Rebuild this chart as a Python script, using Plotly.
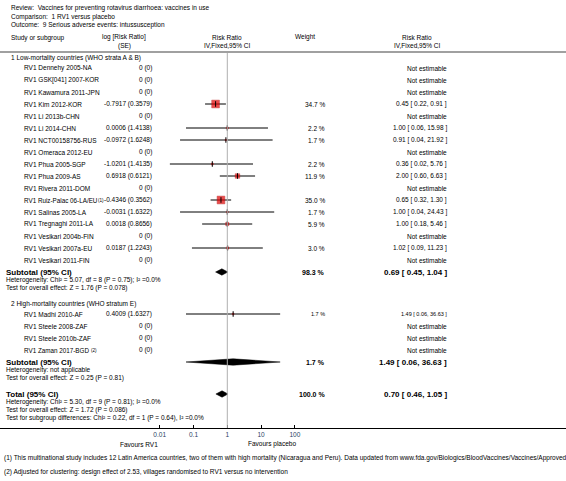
import plotly.graph_objects as go
import math

# ---------------- data ----------------
review = "Review:  Vaccines for preventing rotavirus diarrhoea: vaccines in use"
comparison = "Comparison:  1 RV1 versus placebo"
outcome = "Outcome:  9 Serious adverse events: intussusception"

group1_label = "1 Low-mortality countries (WHO strata A & B)"
names1 = ["RV1 Dennehy 2005-NA", "RV1 GSK[041] 2007-KOR", "RV1 Kawamura 2011-JPN", "RV1 Kim 2012-KOR",
          "RV1 Li 2013b-CHN", "RV1 Li 2014-CHN", "RV1 NCT00158756-RUS", "RV1 Omeraca 2012-EU",
          "RV1 Phua 2005-SGP", "RV1 Phua 2009-AS", "RV1 Rivera 2011-DOM", "RV1 Ruiz-Palac 06-LA/EU",
          "RV1 Salinas 2005-LA", "RV1 Tregnaghi 2011-LA", "RV1 Vesikari 2004b-FIN", "RV1 Vesikari 2007a-EU",
          "RV1 Vesikari 2011-FIN"]
notes1 = [None] * 11 + ["(1)"] + [None] * 5
logrr1 = [0, 0, 0, -0.7917, 0, 0.0006, -0.0972, 0, -1.0201, 0.6918, 0, -0.4346, -0.0031, 0.0018, 0, 0.0187, 0]
se1 = [0, 0, 0, 0.3579, 0, 1.4138, 1.6248, 0, 1.4135, 0.6121, 0, 0.3562, 1.6322, 0.8656, 0, 1.2243, 0]
weight1 = [None, None, None, 34.7, None, 2.2, 1.7, None, 2.2, 11.9, None, 35.0, 1.7, 5.9, None, 3.0, None]
rr1 = [None, None, None, 0.45, None, 1.00, 0.91, None, 0.36, 2.00, None, 0.65, 1.00, 1.00, None, 1.02, None]
lo1 = [None, None, None, 0.22, None, 0.06, 0.04, None, 0.02, 0.60, None, 0.32, 0.04, 0.18, None, 0.09, None]
hi1 = [None, None, None, 0.91, None, 15.98, 21.92, None, 5.76, 6.63, None, 1.30, 24.43, 5.46, None, 11.23, None]
sub1 = dict(rr=0.69, lo=0.45, hi=1.04, w=98.3,
            het="Heterogeneity: Chi² = 5.07, df = 8 (P = 0.75); I² =0.0%",
            test="Test for overall effect: Z = 1.76 (P = 0.078)")

group2_label = "2 High-mortality countries (WHO stratum E)"
names2 = ["RV1 Madhi 2010-AF", "RV1 Steele 2008-ZAF", "RV1 Steele 2010b-ZAF", "RV1 Zaman 2017-BGD"]
notes2 = [None, None, None, "(2)"]
logrr2 = [0.4009, 0, 0, 0]
se2 = [1.6327, 0, 0, 0]
weight2 = [1.7, None, None, None]
rr2 = [1.49, None, None, None]
lo2 = [0.06, None, None, None]
hi2 = [36.63, None, None, None]
sub2 = dict(rr=1.49, lo=0.06, hi=36.63, w=1.7,
            het="Heterogeneity: not applicable",
            test="Test for overall effect: Z = 0.25 (P = 0.81)")

total = dict(rr=0.70, lo=0.46, hi=1.05, w=100.0,
             het="Heterogeneity: Chi² = 5.30, df = 9 (P = 0.81); I² =0.0%",
             test="Test for overall effect: Z = 1.72 (P = 0.086)",
             sub="Test for subgroup differences: Chi² = 0.22, df = 1 (P = 0.64), I² =0.0%")

tick_vals = [0.01, 0.1, 1, 10, 100]
tick_text = ["0.01", "0.1", "1", "10", "100"]
favours_left = "Favours RV1"
favours_right = "Favours placebo"
footnotes = [
    "(1) This multinational study includes 12 Latin America countries, two of them with high mortality (Nicaragua and Peru). Data updated from www.fda.gov/Biologics/BloodVaccines/Vaccines/ApprovedProducts/ucm133539.htm",
    "(2) Adjusted for clustering: design effect of 2.53, villages randomised to RV1 versus no intervention",
]

# ---------------- layout constants (pixels) ----------------
W, H = 566, 481
X_ONE = 227.3        # pixel of RR = 1
DECADE = 33.8        # pixels per decade
FONT = "Liberation Sans, Arial, sans-serif"
FS = 6.5
RED = "#e00000"

x_name = 23
x_logrr = 153
x_weight = 326
x_rr = 448

row0 = 68
step = 12
rows1 = [row0 + step * i for i in range(len(names1))]
y_sub1 = rows1[-1] + step
y_g2 = y_sub1 + 32
rows2 = [y_g2 + 10 + step * i for i in range(len(names2))]
y_sub2 = rows2[-1] + step
y_total = y_sub2 + 32
y_axis = 428

annotations = []


def txt(x, y, s, anchor="left", size=FS, bold=False, color="#000"):
    annotations.append(dict(
        x=x / W, y=y, xref="paper", yref="y", text=("<b>%s</b>" % s) if bold else s,
        showarrow=False, xanchor=anchor, yanchor="middle", borderpad=0,
        font=dict(family=FONT, size=size, color=color)))


def fmt_rr(r, l, h):
    return "%.2f [ %.2f, %.2f ]" % (r, l, h)


def fmt_lr(v, s):
    if v == 0 and s == 0:
        return "0 (0)"
    return "%.4f (%.4f)" % (v, s)


# header
txt(10, 8, review)
txt(10, 16.5, comparison)
txt(10, 25, outcome)
txt(10, 38, "Study or subgroup")
txt(124, 37, "log [Risk Ratio]", "center")
txt(124, 45.5, "(SE)", "center")
txt(X_ONE, 37, "Risk Ratio", "center")
txt(X_ONE, 45.5, "IV,Fixed,95% CI", "center")
txt(305, 37, "Weight", "center")
txt(417, 37, "Risk Ratio", "center")
txt(417, 45.5, "IV,Fixed,95% CI", "center")

# groups
txt(10, 58, group1_label)
txt(10, y_g2, group2_label)

est_x, est_y, est_s = [], [], []
ci_x, ci_y = [], []


def study_rows(names, notes, lr, se, w, rr, lo, hi, ys, small=False):
    for i, n in enumerate(names):
        y = ys[i]
        if notes[i] is None:
            txt(x_name, y, n)
        else:
            txt(x_name, y, n, size=FS - 0.2)
            # footnote marker placed right after the name, in a smaller size
            nx = 97 if notes[i] == "(1)" else 89.5
            txt(nx, y, notes[i], size=4.6)
        txt(x_logrr, y, fmt_lr(lr[i], se[i]), "right")
        if rr[i] is None:
            txt(x_rr, y, "Not estimable", "right")
        else:
            sz = FS - 1 if small else FS
            txt(x_weight, y, "%.1f %%" % w[i], "right", size=sz)
            txt(x_rr, y, fmt_rr(rr[i], lo[i], hi[i]), "right", size=sz)
            est_x.append(rr[i]); est_y.append(y)
            est_s.append(7.8 * math.sqrt(w[i] / 35.0))
            ci_x.extend([lo[i], hi[i], None]); ci_y.extend([y, y, None])


study_rows(names1, notes1, logrr1, se1, weight1, rr1, lo1, hi1, rows1)
study_rows(names2, notes2, logrr2, se2, weight2, rr2, lo2, hi2, rows2, small=True)

diamonds = []


def summary(label, d, y, extra_lines):
    txt(5, y, label, bold=True, size=8)
    txt(x_weight, y, "%.1f %%" % d["w"], "right", bold=True, size=7)
    txt(x_rr, y, fmt_rr(d["rr"], d["lo"], d["hi"]), "right", bold=True, size=8)
    for k, line in enumerate(extra_lines):
        txt(5, y + 8 + 8 * k, line)
    diamonds.append((d["lo"], d["rr"], d["hi"], y))


summary("Subtotal (95% CI)", sub1, y_sub1, [sub1["het"], sub1["test"]])
summary("Subtotal (95% CI)", sub2, y_sub2, [sub2["het"], sub2["test"]])
summary("Total (95% CI)", total, y_total, [total["het"], total["test"], total["sub"]])

txt(159, y_axis + 16, favours_left, "right")
txt(247, y_axis + 16, favours_right, "left")
txt(3, 458, footnotes[0])
txt(3, 472, footnotes[1])

fig = go.Figure()
fig.add_trace(go.Scatter(x=ci_x, y=ci_y, mode="lines", line=dict(color="black", width=1),
                         hoverinfo="skip", showlegend=False))
fig.add_trace(go.Scatter(x=est_x, y=est_y, mode="markers",
                         marker=dict(symbol="square", size=est_s, color=RED,
                                     line=dict(color="#b00000", width=0.5)),
                         showlegend=False))
fig.add_trace(go.Scatter(x=est_x, y=est_y, mode="markers",
                         marker=dict(symbol="line-ns", size=4, line=dict(color="black", width=1)),
                         showlegend=False))
for lo, rr, hi, y in diamonds:
    fig.add_trace(go.Scatter(x=[lo, rr, hi, rr, lo], y=[y, y - 3.2, y, y + 3.2, y],
                             mode="lines", fill="toself", fillcolor="black",
                             line=dict(color="black", width=0.5), showlegend=False))

shapes = [
    dict(type="line", xref="paper", yref="y", x0=0, x1=1, y0=52, y1=52,
         line=dict(color="#a0a0a0", width=2)),
    dict(type="line", xref="x", yref="y", x0=1, x1=1, y0=53, y1=y_axis,
         line=dict(color="#b0b0b0", width=1)),
]

fig.update_layout(
    width=W, height=H, margin=dict(l=0, r=0, t=0, b=0),
    paper_bgcolor="white", plot_bgcolor="white",
    xaxis=dict(type="log", range=[-X_ONE / DECADE, (W - X_ONE) / DECADE], domain=[0, 1],
               anchor="free", position=1 - y_axis / H, showline=True, linecolor="black",
               linewidth=1, ticks="inside", ticklen=3, tickcolor="black",
               tickvals=tick_vals, ticktext=tick_text, showgrid=False, zeroline=False,
               tickfont=dict(family=FONT, size=FS)),
    yaxis=dict(range=[H, 0], domain=[0, 1], visible=False, showgrid=False, zeroline=False),
    shapes=shapes, annotations=annotations, showlegend=False,
)

fig.write_html("out.html", config={"displayModeBar": False},
               post_script="document.body.style.margin='0';document.body.style.overflow='hidden';")
